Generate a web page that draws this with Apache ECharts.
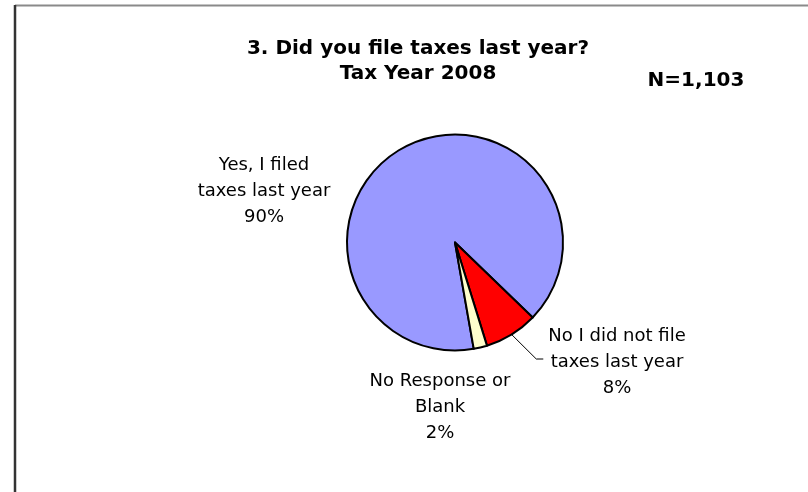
<!DOCTYPE html>
<html>
<head>
<meta charset="utf-8">
<script src="https://cdn.jsdelivr.net/npm/echarts@6/dist/echarts.min.js"></script>
<style>
  html, body { margin: 0; padding: 0; background: #ffffff; }
  #chart { width: 808px; height: 492px; }
</style>
</head>
<body>
<div id="chart"></div>
<script>
// Survey question 3: filing status for tax year 2008
const categories = ['Yes, I filed\ntaxes last year', 'No I did not file\ntaxes last year', 'No Response or\nBlank'];
const percents = [90, 8, 2];
const sliceColors = ['#9999FF', '#FF0000', '#FFFFCC'];
const titleLines = ['3. Did you file taxes last year?', 'Tax Year 2008'];
const sampleNote = 'N=1,103';

const FONT = '"DejaVu Sans", Verdana, sans-serif';

// label anchor spots (centre x, top y) for each slice
const labelSpots = [
  { x: 264, y: 152 },
  { x: 617, y: 323 },
  { x: 440, y: 368 }
];

const chart = echarts.init(document.getElementById('chart'), null, { renderer: 'canvas' });

chart.setOption({
  backgroundColor: '#ffffff',
  animation: false,
  title: [
    {
      text: titleLines.join('\n'),
      left: 418,
      top: 36,
      textAlign: 'center',
      padding: 0,
      textStyle: { fontFamily: FONT, fontSize: 20, fontWeight: 'bold', color: '#000', lineHeight: 25 }
    },
    {
      text: sampleNote,
      left: 696,
      top: 68,
      textAlign: 'center',
      padding: 0,
      textStyle: { fontFamily: FONT, fontSize: 20, fontWeight: 'bold', color: '#000', lineHeight: 25 }
    }
  ],
  graphic: [
    { type: 'line', shape: { x1: 15, y1: 5.5, x2: 808, y2: 5.5 }, style: { stroke: '#8a8a8a', lineWidth: 2 } },
    { type: 'line', shape: { x1: 15, y1: 5, x2: 15, y2: 492 }, style: { stroke: '#333333', lineWidth: 2.5 } }
  ],
  series: [{
    type: 'pie',
    center: [455, 242.5],
    radius: 108,
    startAngle: 280,
    clockwise: true,
    avoidLabelOverlap: false,
    itemStyle: { borderColor: '#000', borderWidth: 2 },
    emphasis: { disabled: true },
    label: {
      show: true,
      position: 'outside',
      color: '#000',
      fontFamily: FONT,
      fontSize: 18,
      lineHeight: 26,
      align: 'center',
      formatter: p => p.name + '\n' + p.value + '%'
    },
    labelLine: { show: true, lineStyle: { color: '#000', width: 1 } },
    labelLayout: function (params) {
      const spot = labelSpots[params.dataIndex];
      const out = { x: spot.x, y: spot.y, align: 'center', verticalAlign: 'top' };
      if (params.dataIndex === 1 && params.labelLinePoints) {
        const start = params.labelLinePoints[0];
        const left = spot.x - params.labelRect.width / 2;
        const ly = spot.y + 36;
        out.labelLinePoints = [start, [left - 12, ly], [left - 5, ly]];
      }
      return out;
    },
    data: categories.map((name, i) => ({
      name: name,
      value: percents[i],
      itemStyle: { color: sliceColors[i] },
      labelLine: { show: i === 1 }
    }))
  }]
});
</script>
</body>
</html>
